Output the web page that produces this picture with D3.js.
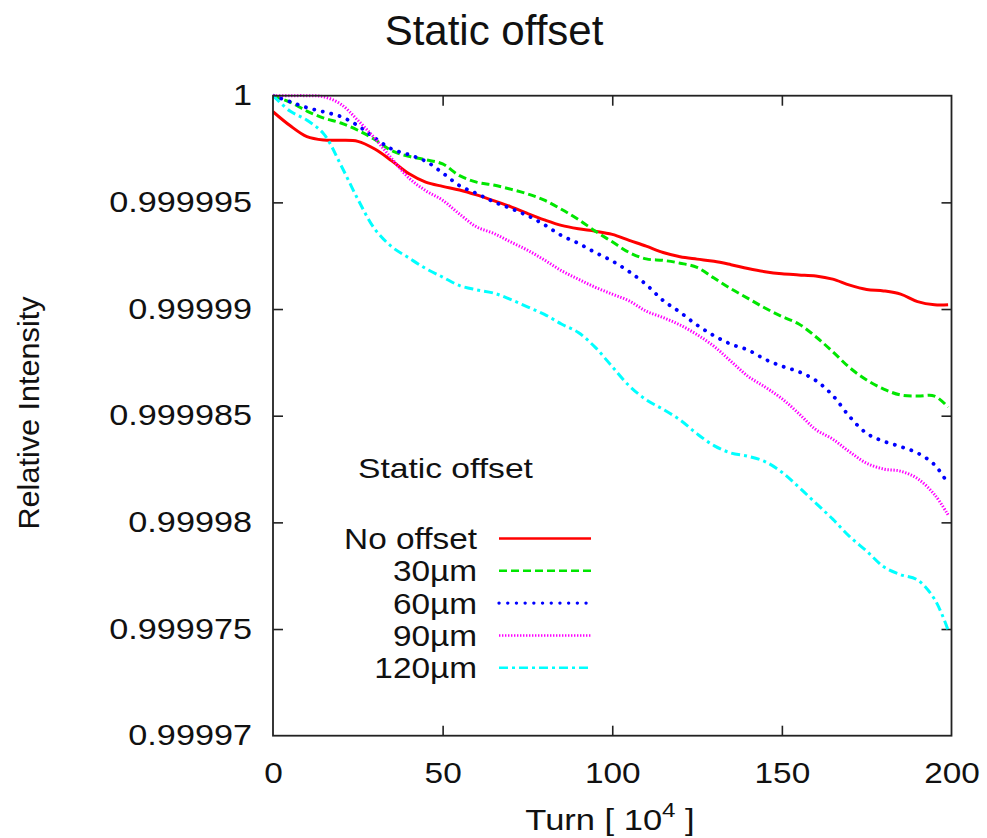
<!DOCTYPE html>
<html>
<head>
<meta charset="utf-8">
<script src="https://cdn.jsdelivr.net/npm/d3@7"></script>
<style>
  html, body { margin: 0; padding: 0; background: #fff; }
  svg { display: block; }
  text { font-family: "Liberation Sans", Arial, sans-serif; fill: #111; }
</style>
</head>
<body>
<svg id="chart" width="987" height="838"></svg>
<script>
// Turn number (units of 10^4 turns)
const turns = [0, 5, 10, 15, 20, 25, 30, 35, 40, 45, 50, 55, 60, 65, 70, 75, 80, 85, 90, 95,
  100, 105, 110, 115, 120, 125, 130, 135, 140, 145, 150, 155, 160, 165, 170, 175, 180, 185, 190, 195, 199];

// Relative intensity for each static offset
const noOffset = [0.99999925, 0.9999986, 0.99999808, 0.99999792, 0.99999791, 0.99999786, 0.9999975, 0.99999695,
  0.99999635, 0.99999595, 0.99999575, 0.99999558, 0.99999535, 0.99999508, 0.9999948, 0.99999448, 0.99999418,
  0.99999392, 0.99999376, 0.99999365, 0.9999935, 0.99999322, 0.99999295, 0.99999265, 0.99999245, 0.99999234,
  0.99999224, 0.99999208, 0.9999919, 0.99999175, 0.99999165, 0.9999916, 0.99999155, 0.9999914, 0.99999112,
  0.99999092, 0.99999085, 0.9999907, 0.99999035, 0.9999902, 0.9999902];
const offset30 = [1, 0.9999997, 0.99999928, 0.99999895, 0.99999872, 0.99999838, 0.99999795, 0.99999742,
  0.99999716, 0.999997, 0.9999968, 0.99999625, 0.99999595, 0.99999581, 0.99999562, 0.9999954, 0.9999951,
  0.99999468, 0.9999942, 0.99999365, 0.99999315, 0.99999265, 0.99999235, 0.99999228, 0.99999215, 0.99999195,
  0.99999145, 0.99999095, 0.9999905, 0.99999005, 0.99998965, 0.9999893, 0.9999887, 0.999988, 0.99998725,
  0.99998667, 0.99998625, 0.99998597, 0.99998592, 0.99998592, 0.9999854];
const offset60 = [1, 0.99999972, 0.99999944, 0.99999924, 0.99999902, 0.9999986, 0.99999802, 0.9999975,
  0.99999724, 0.99999693, 0.99999638, 0.99999578, 0.99999542, 0.99999503, 0.99999472, 0.99999438, 0.99999395,
  0.99999345, 0.99999308, 0.99999265, 0.99999225, 0.99999175, 0.99999115, 0.9999904, 0.99998985, 0.99998925,
  0.99998875, 0.99998835, 0.99998808, 0.99998765, 0.99998732, 0.99998706, 0.99998665, 0.99998595, 0.99998495,
  0.99998417, 0.9999838, 0.99998355, 0.99998325, 0.9999827, 0.9999818];
const offset90 = [1, 1, 1, 0.99999995, 0.9999996, 0.99999885, 0.999998, 0.99999705,
  0.99999615, 0.99999555, 0.9999951, 0.99999445, 0.99999385, 0.99999355, 0.99999315, 0.99999276, 0.9999923,
  0.9999918, 0.9999914, 0.99999102, 0.9999907, 0.99999038, 0.9999899, 0.9999896, 0.99998925, 0.9999888,
  0.99998825, 0.99998755, 0.99998685, 0.99998635, 0.9999858, 0.9999851, 0.99998435, 0.9999839, 0.9999833,
  0.99998277, 0.9999825, 0.9999824, 0.99998205, 0.9999813, 0.99998035];
const offset120 = [1, 0.99999928, 0.99999885, 0.9999982, 0.99999675, 0.99999515, 0.99999375, 0.99999292,
  0.9999924, 0.9999919, 0.9999915, 0.9999911, 0.9999909, 0.99999075, 0.99999045, 0.9999901, 0.99998975,
  0.9999893, 0.9999889, 0.9999882, 0.9999873, 0.9999864, 0.99998575, 0.9999853, 0.9999848, 0.99998415,
  0.9999836, 0.99998325, 0.9999831, 0.99998285, 0.99998235, 0.99998165, 0.9999809, 0.99998015, 0.99997933,
  0.99997865, 0.99997792, 0.99997755, 0.9999773, 0.9999764, 0.99997495];

const seriesNames = ["No offset", "30\u00b5m", "60\u00b5m", "90\u00b5m", "120\u00b5m"];
const seriesValues = [noOffset, offset30, offset60, offset90, offset120];
const seriesColors = ["#ff0000", "#00e600", "#0000ff", "#ff00ff", "#00ffff"];
const seriesDashes = [null, "8,4", "0.1,8.6", "1.4,1.6", "9,4,3,4"];
const seriesWidths = [3, 3, 3.8, 3, 3];

const xTicks = [0, 50, 100, 150, 200];
const yTicks = [0.99997, 0.999975, 0.99998, 0.999985, 0.99999, 0.999995, 1];
const yTickLabels = ["0.99997", "0.999975", "0.99998", "0.999985", "0.99999", "0.999995", "1"];

const svg = d3.select("#chart");
const plot = { left: 273, right: 951.5, top: 95.7, bottom: 735.7 };

const x = d3.scaleLinear().domain([0, 200]).range([plot.left, plot.right]);
const y = d3.scaleLinear().domain([0.99997, 1]).range([plot.bottom, plot.top]);

// widen glyphs horizontally by a factor
function stretch(sel, factor) {
  sel.each(function () {
    const w = this.getComputedTextLength();
    d3.select(this).attr("textLength", w * factor).attr("lengthAdjust", "spacingAndGlyphs");
  });
}

// clip for curves
svg.append("defs").append("clipPath").attr("id", "plotClip")
  .append("rect")
  .attr("x", plot.left).attr("y", plot.top - 3)
  .attr("width", plot.right - plot.left).attr("height", plot.bottom - plot.top + 3);

// axes with inward ticks on all four sides
const tickLen = 10;
const yAxisL = svg.append("g").attr("transform", `translate(${plot.left},0)`)
  .call(d3.axisLeft(y).tickValues(yTicks).tickSize(-tickLen).tickPadding(21)
    .tickFormat((d, i) => yTickLabels[i]));
const yAxisR = svg.append("g").attr("transform", `translate(${plot.right},0)`)
  .call(d3.axisRight(y).tickValues(yTicks).tickSize(-tickLen).tickFormat(""));
const xAxisB = svg.append("g").attr("transform", `translate(0,${plot.bottom})`)
  .call(d3.axisBottom(x).tickValues(xTicks).tickSize(-tickLen).tickPadding(27).tickFormat(d3.format("d")));
const xAxisT = svg.append("g").attr("transform", `translate(0,${plot.top})`)
  .call(d3.axisTop(x).tickValues(xTicks).tickSize(-tickLen).tickFormat(""));

[yAxisL, yAxisR, xAxisB, xAxisT].forEach(g => {
  g.select(".domain").remove();
  g.selectAll(".tick line").attr("stroke", "#222").attr("stroke-width", 1.6);
  g.selectAll("text").attr("font-size", 29).attr("font-family", "Liberation Sans, Arial, sans-serif").attr("fill", "#111");
});
// drop the extreme inward ticks that sit on the frame corners
[yAxisL, yAxisR].forEach(g => g.selectAll(".tick").filter(d => d === 1 || d === 0.99997).select("line").remove());
[xAxisB, xAxisT].forEach(g => g.selectAll(".tick").filter(d => d === 0 || d === 200).select("line").remove());

stretch(yAxisL.selectAll("text"), 1.18);
stretch(xAxisB.selectAll("text"), 1.15);

// curves
const line = d3.line()
  .x((d, i) => x(turns[i]))
  .y(d => y(d))
  .curve(d3.curveCatmullRom.alpha(0.5));

const curves = svg.append("g").attr("clip-path", "url(#plotClip)");
seriesValues.forEach((vals, k) => {
  curves.append("path")
    .datum(vals)
    .attr("d", line)
    .attr("fill", "none")
    .attr("stroke", seriesColors[k])
    .attr("stroke-width", seriesWidths[k])
    .attr("stroke-linecap", k === 2 ? "round" : "butt")
    .attr("stroke-linejoin", "round")
    .attr("stroke-dasharray", seriesDashes[k]);
});

// frame
svg.append("rect")
  .attr("x", plot.left).attr("y", plot.top)
  .attr("width", plot.right - plot.left).attr("height", plot.bottom - plot.top)
  .attr("fill", "none").attr("stroke", "#222").attr("stroke-width", 1.8);

// legend
const legend = svg.append("g");
const legendTitle = legend.append("text")
  .attr("x", 358).attr("y", 478)
  .attr("font-size", 28)
  .text("Static offset");
stretch(legendTitle, 1.2);

seriesNames.forEach((name, k) => {
  const ly = 538.5 + k * 32.3;
  const t = legend.append("text")
    .attr("x", 477).attr("y", ly + 10.5)
    .attr("text-anchor", "end")
    .attr("font-size", 29)
    .text(name);
  stretch(t, 1.15);
  legend.append("line")
    .attr("x1", 499).attr("x2", 591)
    .attr("y1", ly).attr("y2", ly)
    .attr("stroke", seriesColors[k])
    .attr("stroke-width", seriesWidths[k] - 0.5)
    .attr("stroke-linecap", k === 2 ? "round" : "butt")
    .attr("stroke-dasharray", seriesDashes[k]);
});

// axis titles
const yTitle = svg.append("text")
  .attr("transform", "translate(39,413) rotate(-90)")
  .attr("text-anchor", "middle")
  .attr("font-size", 30)
  .attr("fill", "#222")
  .text("Relative Intensity");
stretch(yTitle, 1.02);

const xTitle = svg.append("g")
  .attr("transform", "translate(610,830) scale(1.15,1)")
  .append("text")
  .attr("text-anchor", "middle")
  .attr("font-size", 30);
xTitle.append("tspan").text("Turn [ 10");
xTitle.append("tspan").attr("dy", -13).attr("font-size", 21).text("4");
xTitle.append("tspan").attr("dy", 13).text(" ]");

// chart title
svg.append("text")
  .attr("x", 494).attr("y", 45)
  .attr("text-anchor", "middle")
  .attr("font-family", "Lato, 'Open Sans', sans-serif")
  .attr("font-size", 42)
  .attr("fill", "#000")
  .text("Static offset");
</script>
</body>
</html>
